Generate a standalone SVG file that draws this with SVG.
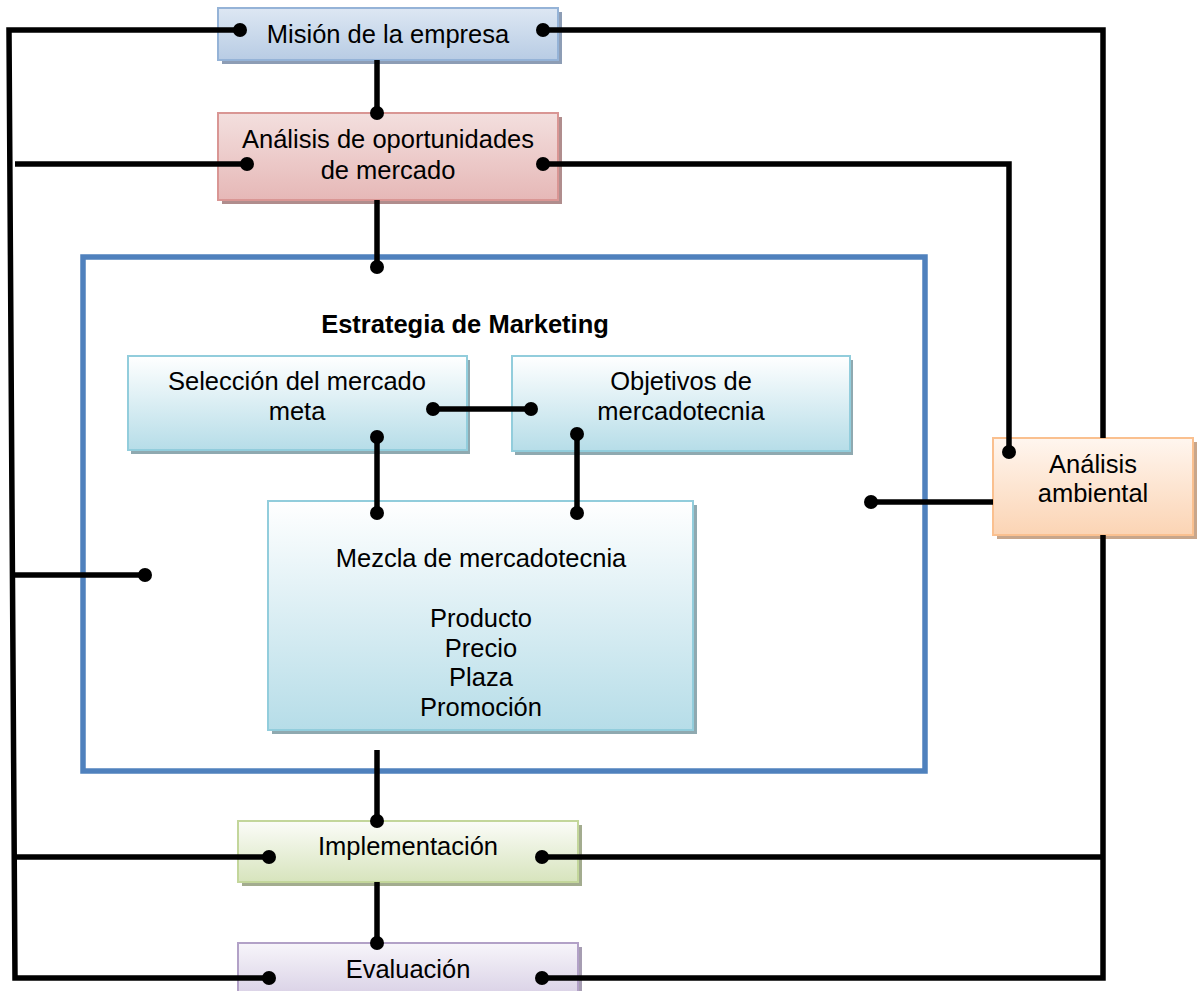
<svg xmlns="http://www.w3.org/2000/svg" width="1197" height="991" viewBox="0 0 1197 991">
  <defs>
    <linearGradient id="gBlue" x1="0" y1="0" x2="0" y2="1">
      <stop offset="0" stop-color="#dde7f3"/>
      <stop offset="1" stop-color="#b8cce4"/>
    </linearGradient>
    <linearGradient id="gRed" x1="0" y1="0" x2="0" y2="1">
      <stop offset="0" stop-color="#f3dfde"/>
      <stop offset="1" stop-color="#e6b8b7"/>
    </linearGradient>
    <linearGradient id="gCyan" x1="0" y1="0" x2="0" y2="1">
      <stop offset="0" stop-color="#ffffff"/>
      <stop offset="1" stop-color="#b6dde8"/>
    </linearGradient>
    <linearGradient id="gOrange" x1="0" y1="0" x2="0" y2="1">
      <stop offset="0" stop-color="#fff6ef"/>
      <stop offset="1" stop-color="#fbd4b4"/>
    </linearGradient>
    <linearGradient id="gGreen" x1="0" y1="0" x2="0" y2="1">
      <stop offset="0" stop-color="#fbfcf8"/>
      <stop offset="1" stop-color="#d7e4bd"/>
    </linearGradient>
    <linearGradient id="gPurple" x1="0" y1="0" x2="0" y2="1">
      <stop offset="0" stop-color="#f7f5fa"/>
      <stop offset="1" stop-color="#d5cce3"/>
    </linearGradient>
  </defs>
  <style>
    text { font-family: "Liberation Sans", Arial, sans-serif; font-size: 25.5px; fill: #000; text-anchor: middle; }
    .title { font-weight: bold; }
    .box { stroke-width: 2; }
    .shadow { stroke: none; }
    .wire { fill: none; stroke: #000; stroke-width: 5.5; stroke-linejoin: miter; stroke-linecap: butt; }
    .dot { fill: #000; }
  </style>

  <!-- Marketing strategy frame -->
  <g id="estrategia">
    <rect x="83" y="257" width="842" height="514" fill="none" stroke="#4f81bd" stroke-width="5.5"/>
    <text class="title" x="465" y="333">Estrategia de Marketing</text>
  </g>

  <g id="mision">
    <rect class="shadow" x="222" y="12" width="340" height="52" fill="#8d9db5"/>
    <rect class="box" x="218" y="8" width="340" height="52" fill="url(#gBlue)" stroke="#95b3d7"/>
    <text x="388" y="43">Misión de la empresa</text>
  </g>

  <g id="oportunidades">
    <rect class="shadow" x="222" y="117" width="340" height="87" fill="#b08d8d"/>
    <rect class="box" x="218" y="113" width="340" height="87" fill="url(#gRed)" stroke="#d99694"/>
    <text x="388" y="148">Análisis de oportunidades</text>
    <text x="388" y="179">de mercado</text>
  </g>

  <g id="seleccion">
    <rect class="shadow" x="131" y="360" width="339" height="94" fill="#8fa9b0"/>
    <rect class="box" x="128" y="356" width="339" height="94" fill="url(#gCyan)" stroke="#92cddc"/>
    <text x="297" y="390">Selección del mercado</text>
    <text x="297" y="420">meta</text>
  </g>

  <g id="objetivos">
    <rect class="shadow" x="515" y="360" width="338" height="95" fill="#8fa9b0"/>
    <rect class="box" x="512" y="356" width="338" height="95" fill="url(#gCyan)" stroke="#92cddc"/>
    <text x="681" y="390">Objetivos de</text>
    <text x="681" y="420">mercadotecnia</text>
  </g>

  <g id="mezcla">
    <rect class="shadow" x="272" y="505" width="425" height="229" fill="#8fa9b0"/>
    <rect class="box" x="268" y="501" width="425" height="229" fill="url(#gCyan)" stroke="#92cddc"/>
    <text x="481" y="567">Mezcla de mercadotecnia</text>
    <text x="481" y="627">Producto</text>
    <text x="481" y="657">Precio</text>
    <text x="481" y="686">Plaza</text>
    <text x="481" y="716">Promoción</text>
  </g>

  <g id="ambiental">
    <rect class="shadow" x="997" y="442" width="200" height="97" fill="#c8a68b"/>
    <rect class="box" x="993" y="438" width="200" height="97" fill="url(#gOrange)" stroke="#fac08f"/>
    <text x="1093" y="473">Análisis</text>
    <text x="1093" y="502">ambiental</text>
  </g>

  <g id="implementacion">
    <rect class="shadow" x="242" y="825" width="340" height="61" fill="#a3ac8f"/>
    <rect class="box" x="238" y="821" width="340" height="61" fill="url(#gGreen)" stroke="#c3d69b"/>
    <text x="408" y="855">Implementación</text>
  </g>

  <g id="evaluacion">
    <rect class="shadow" x="242" y="947" width="340" height="60" fill="#a69db2"/>
    <rect class="box" x="238" y="943" width="340" height="60" fill="url(#gPurple)" stroke="#b2a1c7"/>
    <text x="408" y="978">Evaluación</text>
  </g>

  <!-- Feedback wiring with round terminals -->
  <g id="connectors">
    <!-- left return bus -->
    <polyline class="wire" points="240,30 9,30 15,978 269,978"/>
    <line class="wire" x1="15" y1="164" x2="247" y2="164"/>
    <line class="wire" x1="11" y1="575" x2="145" y2="575"/>
    <line class="wire" x1="14" y1="857" x2="269" y2="857"/>
    <!-- right return bus (passes behind the environment box) -->
    <polyline class="wire" points="543,30 1103,30 1103,438"/>
    <polyline class="wire" points="1103,535 1103,978 542,978"/>
    <line class="wire" x1="542" y1="857" x2="1103" y2="857"/>
    <polyline class="wire" points="543,164 1009,164 1009,452"/>
    <line class="wire" x1="871" y1="502" x2="993" y2="502"/>
    <!-- main vertical chain -->
    <line class="wire" x1="377" y1="60" x2="377" y2="113"/>
    <line class="wire" x1="377" y1="200" x2="377" y2="267"/>
    <line class="wire" x1="377" y1="750" x2="377" y2="821"/>
    <line class="wire" x1="377" y1="882" x2="377" y2="943"/>
    <!-- inside the strategy frame -->
    <line class="wire" x1="433" y1="409" x2="531" y2="409"/>
    <line class="wire" x1="377" y1="437" x2="377" y2="513"/>
    <line class="wire" x1="577" y1="434" x2="577" y2="513"/>

    <circle class="dot" cx="240" cy="30" r="7"/>
    <circle class="dot" cx="543" cy="30" r="7"/>
    <circle class="dot" cx="377" cy="113" r="7"/>
    <circle class="dot" cx="247" cy="164" r="7"/>
    <circle class="dot" cx="543" cy="164" r="7"/>
    <circle class="dot" cx="377" cy="267" r="7"/>
    <circle class="dot" cx="1009" cy="452" r="7"/>
    <circle class="dot" cx="433" cy="409" r="7"/>
    <circle class="dot" cx="531" cy="409" r="7"/>
    <circle class="dot" cx="377" cy="437" r="7"/>
    <circle class="dot" cx="577" cy="434" r="7"/>
    <circle class="dot" cx="377" cy="513" r="7"/>
    <circle class="dot" cx="577" cy="513" r="7"/>
    <circle class="dot" cx="145" cy="575" r="7"/>
    <circle class="dot" cx="871" cy="502" r="7"/>
    <circle class="dot" cx="377" cy="821" r="7"/>
    <circle class="dot" cx="269" cy="857" r="7"/>
    <circle class="dot" cx="542" cy="857" r="7"/>
    <circle class="dot" cx="377" cy="943" r="7"/>
    <circle class="dot" cx="269" cy="978" r="7"/>
    <circle class="dot" cx="542" cy="978" r="7"/>
  </g>
</svg>
